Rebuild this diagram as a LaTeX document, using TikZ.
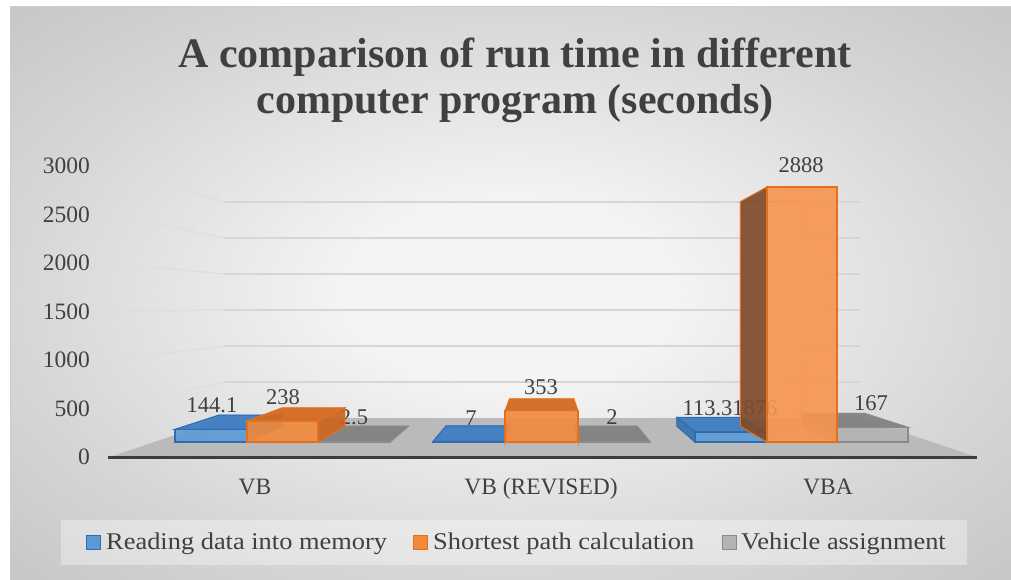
\documentclass[tikz,border=0pt]{standalone}
\usepackage{fontspec}
\setmainfont{Liberation Serif}
\usetikzlibrary{calc}
\definecolor{txt}{HTML}{404040}
\definecolor{bgin}{HTML}{F4F4F4}
\definecolor{bgmid}{HTML}{D6D6D6}
\definecolor{bgout}{HTML}{C6C6C6}
\definecolor{gridc}{HTML}{D6D6D6}
\definecolor{floorc}{HTML}{BABABA}
\definecolor{axisc}{HTML}{3C3C3C}
\definecolor{bluefront}{HTML}{5B9BD5}
\definecolor{bluetop}{HTML}{3F7DC1}
\definecolor{blueside}{HTML}{3A72AE}
\definecolor{blueedge}{HTML}{2F6DB3}
\definecolor{orfront}{HTML}{F28A3C}
\definecolor{orfrontl}{HTML}{F7954E}
\definecolor{ortop}{HTML}{D26A22}
\definecolor{orside}{HTML}{C8631F}
\definecolor{orsidedark}{HTML}{7E4B2C}
\definecolor{oredge}{HTML}{E5701A}
\definecolor{grfront}{HTML}{B4B4B4}
\definecolor{grtop}{HTML}{828282}
\definecolor{grside}{HTML}{8E8E8E}
\definecolor{gredge}{HTML}{8A8A8A}
\pgfdeclareradialshading{bgshade}{\pgfpoint{0bp}{0bp}}{color(0bp)=(bgin); color(8bp)=(bgin); color(25bp)=(bgmid); color(36bp)=(bgout); color(50bp)=(bgout)}
\tikzset{
  lbl/.style={font=\fontsize{22.5}{24}\selectfont, text=txt, inner sep=0pt},
  axlbl/.style={font=\fontsize{23.5}{25}\selectfont, text=txt, inner sep=0pt, anchor=east},
  catlbl/.style={font=\fontsize{23.5}{25}\selectfont, text=txt, inner sep=0pt, anchor=base},
  leglbl/.style={font=\fontsize{24}{26}\selectfont, text=txt, inner sep=0pt, anchor=base west, xscale=1.1},
  ttl/.style={font=\fontsize{42}{46}\selectfont\bfseries, text=txt, inner sep=0pt, anchor=base},
  gridln/.style={draw=gridc, line width=1.2pt},
  keybox/.style={line width=1pt, minimum size=14pt, inner sep=0pt},
}
\newcommand\mybox[7]{%
  \pgfmathsetmacro\ytop{442-#3*0.0883}%
  \coordinate (FL) at (#1,442);
  \coordinate (FR) at (#2,442);
  \coordinate (TL) at (#1,\ytop);
  \coordinate (TR) at (#2,\ytop);
  \coordinate (BFL) at ($(FL)!0.119!(V)$);
  \coordinate (BFR) at ($(FR)!0.119!(V)$);
  \coordinate (BTL) at ($(TL)!0.119!(V)$);
  \coordinate (BTR) at ($(TR)!0.119!(V)$);
  \draw[#7, opacity=0.45, line width=0.8pt] (BFL)--(BFR)--(BTR)--(BTL)--cycle (FL)--(BFL) (FR)--(BFR);
  \ifdim #1pt>543pt
    \filldraw[fill=#6, draw=#7, line width=1pt, fill opacity=0.92] (FL)--(TL)--(BTL)--(BFL)--cycle;
  \fi
  \ifdim #2pt<543pt
    \filldraw[fill=#6, draw=#7, line width=1pt, fill opacity=0.92] (FR)--(TR)--(BTR)--(BFR)--cycle;
  \fi
  \ifdim \ytop pt>310pt
    \filldraw[fill=#5, draw=#7, line width=1pt, fill opacity=0.95] (TL)--(TR)--(BTR)--(BTL)--cycle;
  \fi
  \filldraw[fill=#4, draw=#7, line width=1.2pt, fill opacity=0.9] (FL) rectangle (TR);
}
\begin{document}
\begin{tikzpicture}[x=1pt,y=-1pt]
\useasboundingbox (0,0) rectangle (1011,579);
\fill[white] (0,0) rectangle (1011,579);
\shade[shading=bgshade] (10,6) rectangle (1011,579);
\draw[color=black!20, line width=1pt] (10.5,579) -- (10.5,6.5) -- (1011,6.5);
\coordinate (V) at (543,310);
% title
\node[ttl] (title1) at (515,67) {A comparison of run time in different};
\node[ttl] (title2) at (515,113) {computer program (seconds)};
% floor
\fill[floorc] (110,457) -- (225,418) -- (860,418) -- (977,457) -- cycle;
% gridlines
\foreach \v in {500,1000,...,3000}{
  \draw[gridln, draw=gridc!80] (110,{457-\v*0.097}) -- (225,{418-\v*0.072});
  \draw[gridln] (225,{418-\v*0.072}) -- (860,{418-\v*0.072});
}
\draw[axisc, line width=3pt] (108,457.5) -- (977,457.5);
% axis labels
\node[axlbl] (y0) at (90,457) {0};
\node[axlbl] (y500) at (90,408.5) {500};
\node[axlbl] (y1000) at (90,360) {1000};
\node[axlbl] (y1500) at (90,311.5) {1500};
\node[axlbl] (y2000) at (90,263) {2000};
\node[axlbl] (y2500) at (90,214.5) {2500};
\node[axlbl] (y3000) at (90,166) {3000};
% VB group
\mybox{175}{247}{144.1}{bluefront}{bluetop}{blueside}{blueedge}
\mybox{318}{390}{2.5}{grfront}{grtop}{grside}{gredge}
\node[lbl] (l144) at (212,405) {144.1};
\node[lbl] (l25) at (354,417) {2.5};
\mybox{247}{318}{238}{orfront}{ortop}{orside}{oredge}
\node[lbl] (l238) at (283,397) {238};
% VB (REVISED) group
\mybox{433}{505}{7}{bluefront}{bluetop}{blueside}{blueedge}
\mybox{578}{650}{2}{grfront}{grtop}{grside}{gredge}
\mybox{505}{578}{353}{orfront}{ortop}{orside}{oredge}
\node[lbl] (l7) at (471,418) {7};
\node[lbl] (l353) at (541,387) {353};
\node[lbl] (l2) at (612,417) {2};
% VBA group
\mybox{837}{908}{167}{grfront}{grtop}{grside}{gredge}
\node[lbl] (l167) at (871,403) {167};
\mybox{695}{767}{113.31876}{bluefront}{bluetop}{blueside}{blueedge}
\node[lbl] (l113) at (730,408) {113.31876};
\mybox{767}{837}{2888}{orfrontl}{ortop}{orsidedark}{oredge}
\node[lbl] (l2888) at (801,165) {2888};
% category labels
\node[catlbl] (c1) at (255,494) {VB};
\node[catlbl] (c2) at (541,494) {VB (REVISED)};
\node[catlbl] (c3) at (828,494) {VBA};
% legend
\fill[white, opacity=0.35] (61,520) rectangle (967,565);
\node[keybox, draw=blueedge, fill=bluefront] (k1) at (93.5,542.5) {};
\node[leglbl] (t1) at (106,549) {Reading data into memory};
\node[keybox, draw=oredge, fill=orfront] (k2) at (420.5,542.5) {};
\node[leglbl] (t2) at (433,549) {Shortest path calculation};
\node[keybox, draw=gredge, fill=grfront] (k3) at (729.5,542.5) {};
\node[leglbl] (t3) at (741,549) {Vehicle assignment};
\end{tikzpicture}
\end{document}
